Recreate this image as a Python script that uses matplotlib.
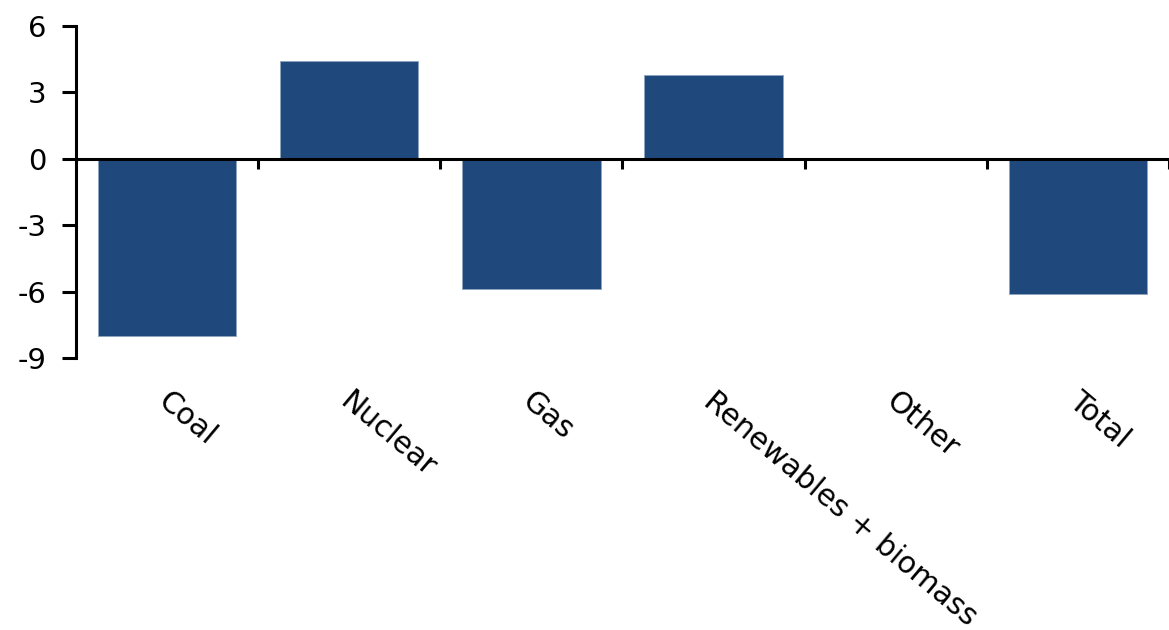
import matplotlib
matplotlib.use("Agg")
import matplotlib.pyplot as plt
import numpy as np

# values
categories = ["Coal", "Nuclear", "Gas", "Renewables + biomass", "Other", "Total"]
values = [-8.0, 4.4, -5.9, 3.8, 0.05, -6.1]
y_ticks = [-9, -6, -3, 0, 3, 6]

BAR_COLOR = "#1F497D"

plt.rcParams['font.family'] = ['DejaVu Sans']

fig = plt.figure(figsize=(11.69, 6.30), dpi=100)
ax = fig.add_axes([0.065, 0.4317, 0.935, 0.527])

x = np.arange(len(categories))
ax.bar(x, values, width=0.76, color=BAR_COLOR, edgecolor="#8fa3bf", linewidth=0.6, zorder=2)

ax.set_xlim(-0.5, len(categories) - 0.5)
ax.set_ylim(-9, 6)
ax.set_yticks(y_ticks)
ax.set_yticklabels([str(t) for t in y_ticks], fontsize=21)

# axes styling: left spine plus a zero line carrying the category boundary ticks
for side in ["top", "right"]:
    ax.spines[side].set_visible(False)
ax.spines["left"].set_linewidth(2.2)
ax.spines["bottom"].set_position(("data", 0))
ax.spines["bottom"].set_linewidth(2.2)
ax.spines["bottom"].set_zorder(3)

ax.tick_params(axis="y", direction="out", length=10, width=2.2, pad=11)
ax.set_xticks(x)
ax.set_xticklabels([])
ax.tick_params(axis="x", which="major", length=0)
ax.set_xticks(list(x[1:] - 0.5) + [len(categories) - 0.5], minor=True)
ax.tick_params(axis="x", which="minor", direction="out", length=7, width=2.2)

# rotated category labels below the plot
for i, name in enumerate(categories):
    ax.text(i + 0.02, -10.3, name, rotation=-40, rotation_mode="anchor",
            ha="left", va="top", fontsize=21.5, clip_on=False)

fig.savefig("out.png", dpi=100)
